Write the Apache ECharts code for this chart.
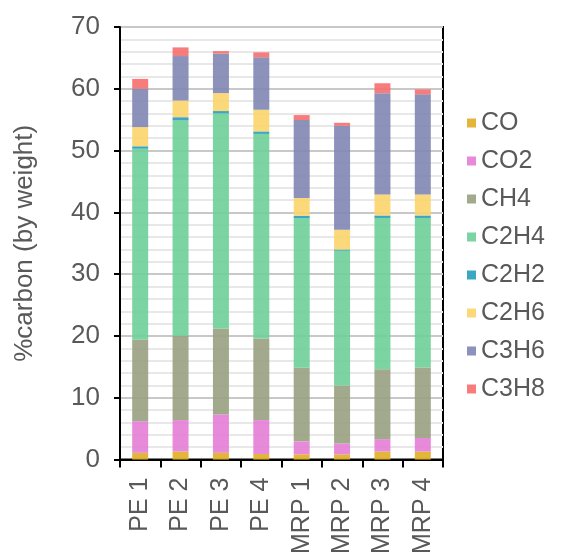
<!DOCTYPE html>
<html>
<head>
<meta charset="utf-8">
<script src="https://cdn.jsdelivr.net/npm/echarts@6/dist/echarts.min.js"></script>
<style>html,body{margin:0;padding:0;background:#fff;}#c{width:565px;height:557px;}</style>
</head>
<body>
<div id="c"></div>
<script>
const categories = ['PE 1','PE 2','PE 3','PE 4','MRP 1','MRP 2','MRP 3','MRP 4'];
const seriesNames = ['CO','CO2','CH4','C2H4','C2H2','C2H6','C3H6','C3H8'];
const CO   = [1.1, 1.3, 1.1, 0.9, 0.85, 0.85, 1.3, 1.3];
const CO2  = [5.1, 5.1, 6.2, 5.5, 2.1, 1.75, 2.0, 2.2];
const CH4  = [13.2, 13.6, 13.9, 13.2, 11.9, 9.4, 11.3, 11.4];
const C2H4 = [30.9, 34.9, 34.8, 33.1, 24.2, 21.8, 24.5, 24.2];
const C2H2 = [0.4, 0.5, 0.4, 0.4, 0.4, 0.2, 0.4, 0.4];
const C2H6 = [3.1, 2.7, 2.9, 3.5, 2.9, 3.2, 3.4, 3.4];
const C3H6 = [6.2, 7.2, 6.4, 8.5, 12.6, 16.8, 16.4, 16.2];
const C3H8 = [1.6, 1.4, 0.4, 0.8, 0.8, 0.5, 1.6, 0.8];
const yTicks = [0, 10, 20, 30, 40, 50, 60, 70];

const values = [CO, CO2, CH4, C2H4, C2H2, C2H6, C3H6, C3H8];
const colors = ['#e0ad26','#e57dd6','#98a07f','#6ecf98','#269dbb','#fbd56d','#7f86b2','#f66f6f'];
const font = 'Liberation Sans, Arial, sans-serif';
const txt = '#595959';

const chart = echarts.init(document.getElementById('c'), null, {renderer: 'canvas'});
chart.setOption({
  animation: false,
  color: colors,
  grid: {left: 120, right: 122, top: 27, bottom: 94, show: true, borderColor: '#000', borderWidth: 2, backgroundColor: 'transparent'},
  legend: {
    orient: 'vertical', left: 467, top: 109, padding: 0,
    icon: 'rect', itemWidth: 9, itemHeight: 9, itemGap: 10,
    textStyle: {fontFamily: font, fontSize: 25, color: txt, lineHeight: 28},
    data: seriesNames
  },
  xAxis: {
    type: 'category', data: categories,
    axisLine: {lineStyle: {color: '#000', width: 2}},
    axisTick: {show: true, length: 8, lineStyle: {color: '#000', width: 2}},
    axisLabel: {rotate: 90, margin: 18, fontFamily: font, fontSize: 25, color: txt},
    splitLine: {show: false}
  },
  yAxis: {
    type: 'value', min: yTicks[0], max: yTicks[yTicks.length-1], interval: 10,
    name: '%carbon (by weight)', nameLocation: 'middle', nameGap: 82,
    nameTextStyle: {fontFamily: font, fontSize: 26, color: txt},
    axisLine: {show: true, lineStyle: {color: '#000', width: 2}},
    axisTick: {show: true, length: 6, lineStyle: {color: '#000', width: 2}},
    axisLabel: {margin: 20, fontFamily: font, fontSize: 26, color: txt},
    splitLine: {show: true, lineStyle: {color: '#c8c8c8', width: 2}},
    minorTick: {show: false, splitNumber: 5},
    minorSplitLine: {show: true, lineStyle: {color: '#e8e8e8', width: 2}}
  },
  series: seriesNames.map((n, i) => ({
    name: n, type: 'bar', stack: 'total', barWidth: 16,
    itemStyle: {color: colors[i], opacity: 0.9},
    data: values[i]
  }))
});
</script>
</body>
</html>
